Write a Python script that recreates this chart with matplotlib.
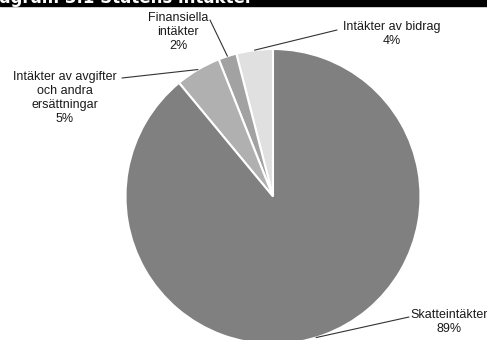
import numpy as np
import matplotlib
matplotlib.use("Agg")
import matplotlib.pyplot as plt

plt.rcParams['font.family'] = ['Liberation Sans', 'DejaVu Sans']

# revenue shares, counter-clockwise from 12 o'clock
labels = ["Intäkter av bidrag", "Finansiella\nintäkter", "Intäkter av avgifter\noch andra\nersättningar", "Skatteintäkter"]
shares = [4, 2, 5, 89]
colors = ["#e0e0e0", "#a2a2a2", "#b0b0b0", "#808080"]

# label placement (pixel coords, y down) and leader line start
label_pos = [(392, 34), (178, 32), (65, 98), (449, 322)]
leader_start = [(337, 30), (210, 20), (122, 78), (409, 317)]
# angle on the rim where each leader line ends (None -> slice middle)
leader_angle = [None, None, None, 287]

W, H = 487, 340
cx, cy, r = 273, 196.5, 147.5

fig = plt.figure(figsize=(W / 100, H / 100), dpi=100)
ax = fig.add_axes([0, 0, 1, 1])
wedges, _ = ax.pie(shares, colors=colors, startangle=90, counterclock=True,
                   center=(cx, H - cy), radius=r,
                   wedgeprops=dict(edgecolor="white", linewidth=1.5))
ax.set_xlim(0, W)
ax.set_ylim(0, H)
ax.set_aspect("auto")
ax.axis("off")

for w, lab, share, pos, start, ang in zip(wedges, labels, shares, label_pos, leader_start, leader_angle):
    if ang is None:
        ang = (w.theta1 + w.theta2) / 2
    ex = cx + r * np.cos(np.radians(ang))
    ey = H - cy + r * np.sin(np.radians(ang))
    ax.annotate("", xy=(ex, ey), xytext=(start[0], H - start[1]),
                arrowprops=dict(arrowstyle="-", color="#333333", lw=0.8,
                                shrinkA=0, shrinkB=0))
    ax.text(pos[0], H - pos[1], f"{lab}\n{share}%", ha="center", va="center",
            fontsize=9, color="#1a1a1a", linespacing=1.2)

# heading bar, clipped at the top edge
ax.axhspan(H - 6, H, color="black", zorder=5)
fig.text(-20 / W, (H - 3) / H, "Diagram 3.1 Statens intäkter", color="white",
         fontsize=12, fontweight="bold", family="DejaVu Sans", va="baseline",
         ha="left", zorder=6)

fig.savefig("out.png", dpi=100)
